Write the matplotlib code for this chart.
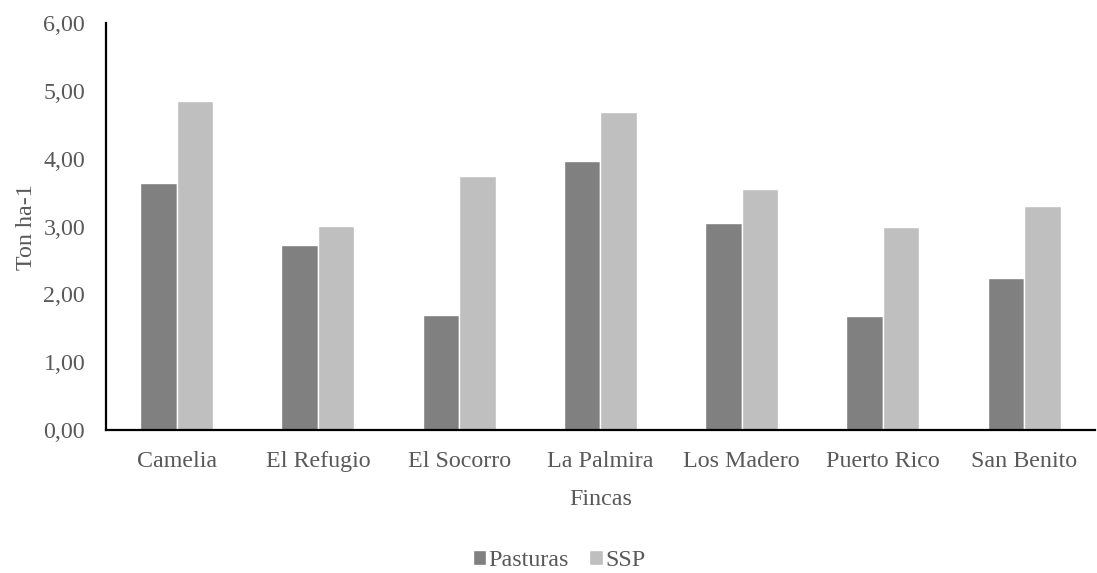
import matplotlib
matplotlib.use("Agg")
import matplotlib.pyplot as plt
import numpy as np
from matplotlib.ticker import FuncFormatter

plt.rcParams['font.family'] = ['Liberation Serif', 'DejaVu Serif']

fincas = ["Camelia", "El Refugio", "El Socorro", "La Palmira", "Los Madero", "Puerto Rico", "San Benito"]
pasturas = [3.64, 2.73, 1.70, 3.97, 3.05, 1.68, 2.25]
ssp = [4.86, 3.01, 3.75, 4.69, 3.55, 2.99, 3.30]

text_color = "#595959"
fs = 17.3

fig = plt.figure(figsize=(10.97, 5.73), dpi=100)
ax = fig.add_axes([0.0966, 0.2496, 0.9014, 0.7094])

x = np.arange(len(fincas))
w = 0.258
ax.bar(x - w / 2, pasturas, width=w, color="#808080", edgecolor="white", linewidth=1.0, label="Pasturas")
ax.bar(x + w / 2, ssp, width=w, color="#BFBFBF", edgecolor="white", linewidth=1.0, label="SSP")

ax.set_xlim(-0.5, len(fincas) - 0.5)
ax.set_ylim(0, 6)
ax.set_yticks(np.arange(0, 7, 1))
ax.yaxis.set_major_formatter(FuncFormatter(lambda v, p: f"{v:.2f}".replace(".", ",")))
ax.set_xticks(x)
ax.set_xticklabels(fincas)

for side in ("top", "right"):
    ax.spines[side].set_visible(False)
for side in ("left", "bottom"):
    ax.spines[side].set_color("black")
    ax.spines[side].set_linewidth(1.6)

ax.tick_params(axis="both", length=0, labelsize=fs, colors=text_color)
ax.tick_params(axis="y", pad=15)
ax.tick_params(axis="x", pad=26.5)
for lbl in ax.get_xticklabels():
    lbl.set_verticalalignment("baseline")

ax.set_ylabel("Ton ha-1", fontsize=fs, color=text_color, va="baseline")
ax.yaxis.set_label_coords(-0.0748, 0.5)
ax.set_xlabel("Fincas", fontsize=fs, color=text_color, va="baseline")
ax.xaxis.set_label_coords(0.5, -0.1845)

fig.legend(loc="lower center", bbox_to_anchor=(0.5096, -0.034), ncol=2, frameon=False,
           fontsize=fs, handlelength=0.55, handleheight=0.55, handletextpad=0.1,
           columnspacing=0.85, labelcolor=text_color)

fig.savefig("out.png", dpi=100)
